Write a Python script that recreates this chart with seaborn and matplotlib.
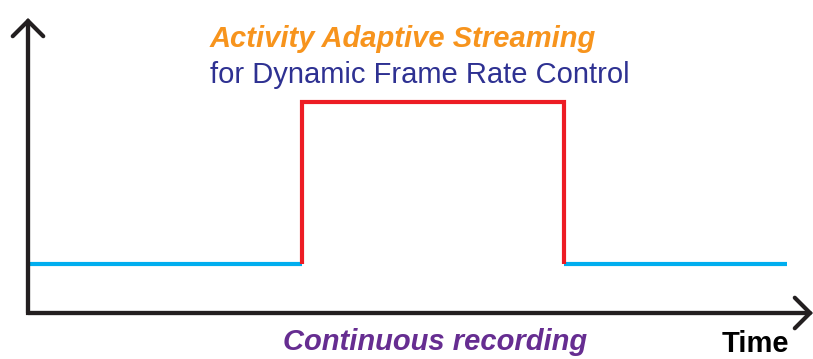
import numpy as np
import pandas as pd
import matplotlib
matplotlib.use('Agg')
import matplotlib.pyplot as plt
import seaborn as sns

# Schematic data (time units / level units) ==================================
seg_time  = [0, 274, 274, 274, 536, 536, 536, 759]
seg_level = [49, 49, 49, 211, 211, 49, 49, 49]
seg_mode  = ['continuous', 'continuous', 'adaptive', 'adaptive',
             'adaptive', 'adaptive', 'continuous', 'continuous']
seg_id    = [0, 0, 1, 1, 1, 1, 2, 2]

axis_x_end = 785
axis_y_end = 295

title_main = 'Activity Adaptive Streaming'
title_sub  = 'for Dynamic Frame Rate Control'
low_label  = 'Continuous recording'
x_label    = 'Time'

palette = {'continuous': '#00AEEF', 'adaptive': '#ED1C24'}

df = pd.DataFrame({'time': seg_time, 'level': seg_level,
                   'mode': seg_mode, 'segment': seg_id})

# Figure =====================================================================
sns.set_style('white')
plt.rcParams['font.family'] = ['Liberation Sans', 'DejaVu Sans']

W, H = 813, 359
fig = plt.figure(figsize=(W / 100, H / 100), dpi=100)
ax = fig.add_axes([28 / W, (H - 313) / H, (W - 28) / W, 313 / H])
ax.set_xlim(0, W - 28)
ax.set_ylim(0, 313)
ax.axis('off')

sns.lineplot(data=df, x='time', y='level', hue='mode', units='segment',
             estimator=None, sort=False, palette=palette, linewidth=3,
             legend=False, ax=ax)
for ln in ax.lines:
    ln.set_solid_capstyle('butt')
    ln.set_solid_joinstyle('miter')

# axes with open arrow heads
axis_col = '#231F20'
ax.plot([0, 0, axis_x_end - 4], [axis_y_end - 4, 0, 0], color=axis_col, lw=3,
        solid_joinstyle='miter', solid_capstyle='butt', clip_on=False)
arrow = dict(arrowstyle='->, head_length=0.55, head_width=0.55', lw=3,
             color=axis_col, mutation_scale=20, shrinkA=0, shrinkB=0,
             joinstyle='miter')
ax.annotate('', xy=(0, axis_y_end), xytext=(0, 0), arrowprops=arrow,
            annotation_clip=False)
ax.annotate('', xy=(axis_x_end, 0), xytext=(0, 0), arrowprops=arrow,
            annotation_clip=False)

# texts
ax.text(182, 266, title_main, color='#F7941D', fontsize=21, fontweight='bold',
        fontstyle='italic', va='baseline', ha='left')
ax.text(182, 230, title_sub, color='#2E3192', fontsize=21,
        va='baseline', ha='left')
ax.text(255, -37, low_label, color='#662D91', fontsize=21, fontweight='bold',
        fontstyle='italic', va='baseline', ha='left', clip_on=False)
ax.text(694, -45.5, x_label, color='black', fontsize=21, fontweight='bold',
        va='bottom', ha='left', clip_on=False)

fig.savefig('out.png', dpi=100)
